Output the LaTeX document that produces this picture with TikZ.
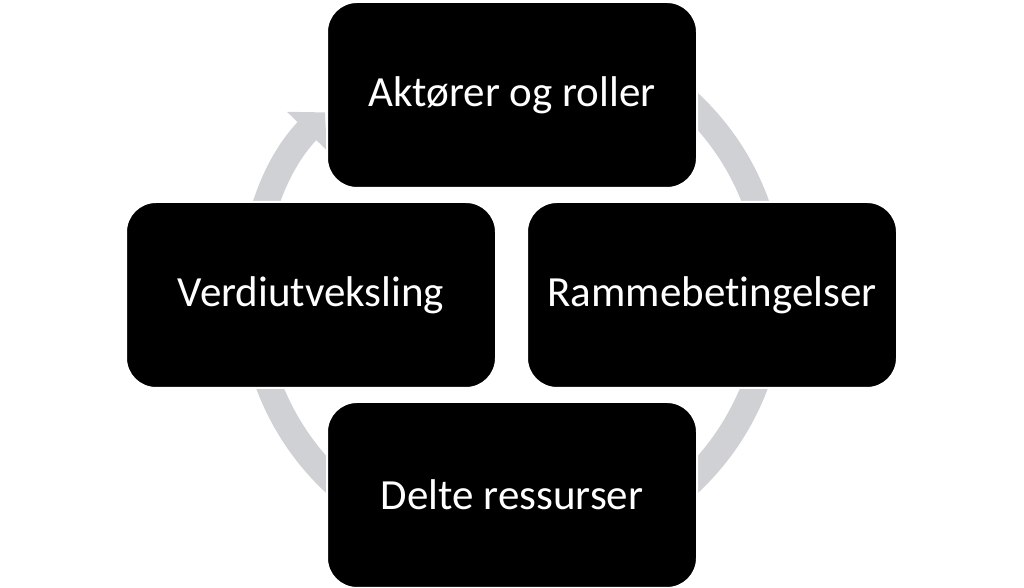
\documentclass[tikz,border=0pt]{standalone}
\usepackage{fontspec}
\setmainfont[Ligatures={NoCommon}]{Carlito}
\usetikzlibrary{arrows.meta}
\definecolor{cyclegray}{RGB}{208,209,213}

\begin{document}
\begin{tikzpicture}[x=1pt, y=1pt,
    box/.style={rectangle, rounded corners=30pt, fill=black, draw=white,
      line width=2pt, minimum width=370pt, minimum height=186pt,
      text=white, font=\fontsize{43}{50}\selectfont},
    cycle/.style={draw=cyclegray, line width=26pt,
      -{Triangle[width=54pt, length=26pt]}},
    ]
    \useasboundingbox (0,0) rectangle (1024,588);
    \coordinate (c) at (512,295);
    \draw[cycle] (c) ++(100:260) arc[start angle=100, end angle=-224, radius=260];
    \node[box] (top) at (512,493) {Aktører og roller};
    \node[box] (left) at (311,293) {Verdiutveksling};
    \node[box] (right) at (712,293) {Rammebetingelser};
    \node[box] (bottom) at (512,93) {Delte ressurser};
  \end{tikzpicture}
\end{document}
